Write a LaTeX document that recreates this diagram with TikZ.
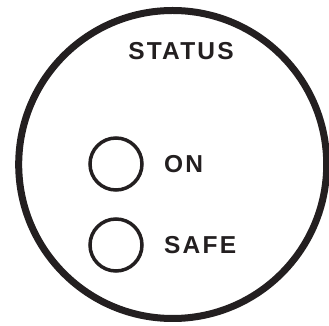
\documentclass[tikz,border=0pt]{standalone}
\usepackage{fontspec}
\setmainfont{Liberation Sans}
\newfontfamily\labelfont[LetterSpace=9]{Liberation Sans}
\definecolor{ink}{HTML}{231F20}
\begin{document}
\begin{tikzpicture}[x=1pt,y=1pt,
  dial/.style={circle,draw=ink,line width=7pt,minimum size=308pt,inner sep=0pt},
  lamp/.style={circle,draw=ink,line width=3.5pt,minimum size=52pt,inner sep=0pt},
  lbl/.style={text=ink,inner sep=0pt,font=\labelfont\bfseries\fontsize{24.5}{27}\selectfont}]
\useasboundingbox (0,0) rectangle (329,326);
\node[dial] (dial) at (172.7,161.5) {};
\node[lbl,anchor=base] (status) at (181,266) {STATUS};
\node[lamp] (on) at (116,162) {};
\node[lamp] (safe) at (116,81) {};
\node[lbl,anchor=west] (onl) at (164,162) {ON};
\node[lbl,anchor=west] (safel) at (164,81) {SAFE};
\end{tikzpicture}
\end{document}
